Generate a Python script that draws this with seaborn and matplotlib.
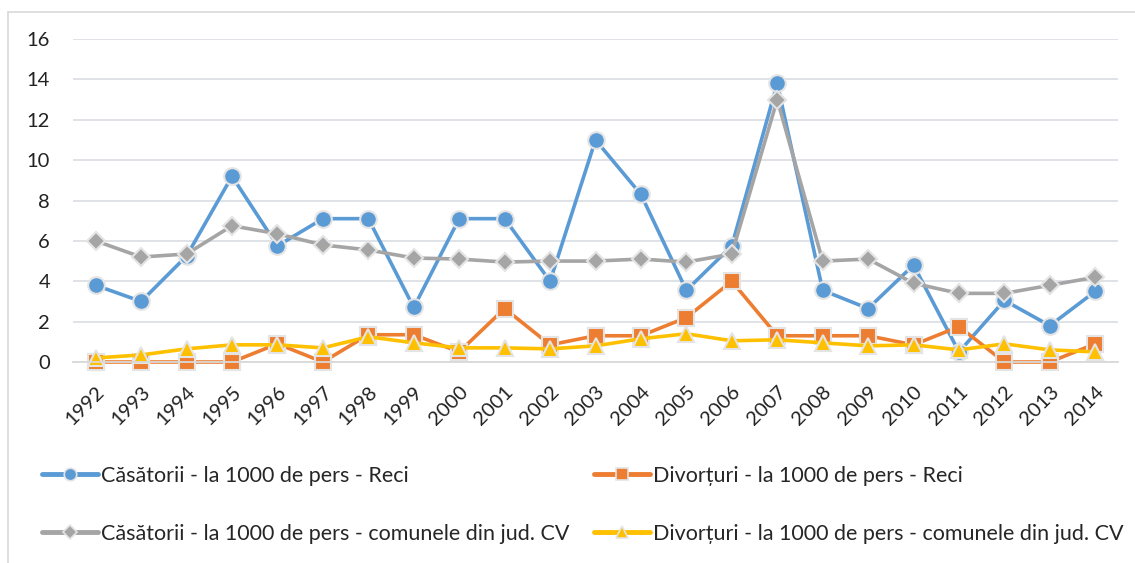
import matplotlib
matplotlib.use("Agg")
import matplotlib.pyplot as plt
import matplotlib.transforms as mtransforms
import seaborn as sns
import pandas as pd
import numpy as np
from matplotlib.lines import Line2D

years = [str(y) for y in range(1992, 2015)]

cas_reci = [3.8, 3.0, 5.25, 9.2, 5.75, 7.1, 7.1, 2.7, 7.1, 7.1, 4.0, 11.0, 8.3,
            3.55, 5.75, 13.8, 3.55, 2.65, 4.8, 0.5, 3.05, 1.8, 3.5]
div_reci = [0.0, 0.0, 0.0, 0.0, 0.9, 0.0, 1.35, 1.35, 0.5, 2.65, 0.85, 1.3, 1.3,
            2.2, 4.0, 1.3, 1.3, 1.3, 0.85, 1.75, 0.0, 0.0, 0.9]
cas_cv = [6.0, 5.2, 5.35, 6.75, 6.35, 5.8, 5.55, 5.15, 5.1, 4.95, 5.0, 5.0, 5.1,
          4.95, 5.35, 13.0, 5.0, 5.1, 3.9, 3.4, 3.4, 3.8, 4.2]
div_cv = [0.2, 0.35, 0.65, 0.85, 0.85, 0.7, 1.25, 0.95, 0.7, 0.7, 0.65, 0.8, 1.15,
          1.4, 1.05, 1.1, 0.95, 0.8, 0.85, 0.6, 0.9, 0.6, 0.5]

series_names = [
    "Căsătorii - la 1000 de pers - Reci",
    "Divorțuri - la 1000 de pers - Reci",
    "Căsătorii - la 1000 de pers - comunele din jud. CV",
    "Divorțuri - la 1000 de pers - comunele din jud. CV",
]
series_values = [cas_reci, div_reci, cas_cv, div_cv]
colors = ["#5B9BD5", "#ED7D31", "#A5A5A5", "#FFC000"]
markers = ["o", "s", "D", "^"]
msizes = [12, 11, 9, 12]

sns.set_theme(style="white")
plt.rcParams["font.family"] = ["Lato", "DejaVu Sans"]

fig = plt.figure(figsize=(11.35, 5.63), dpi=100)
ax = fig.add_axes([73/1135, 1-362/563, (1118-73)/1135, (362-39)/563])

xpos = np.arange(len(years))
edge = "#E4E4E4"
for name, vals, c, m, ms in zip(series_names, series_values, colors, markers, msizes):
    df = pd.DataFrame({"x": xpos, "y": vals})
    sns.lineplot(data=df, x="x", y="y", ax=ax, color=c, linewidth=2.6,
                 marker=m, markersize=ms, markeredgecolor=edge,
                 markeredgewidth=1.5, label=name, legend=False, clip_on=False)

ax.set_xlim(-0.5, len(years) - 0.5)
ax.set_ylim(0, 16)
ax.set_yticks(np.arange(0, 17, 2))
ax.set_yticklabels([str(v) for v in range(0, 17, 2)], fontsize=14.5, color="#222222")
ax.set_xticks(xpos)
ax.set_xticklabels(years, rotation=45, ha="right", rotation_mode="anchor",
                   fontsize=14.5, color="#222222")
offset = mtransforms.ScaledTranslation(2/100, 0, fig.dpi_scale_trans)
for lbl in ax.get_xticklabels():
    lbl.set_transform(lbl.get_transform() + offset)
ax.set_xticks(np.arange(-0.5, len(years), 1), minor=True)
ax.tick_params(axis="x", which="major", length=0, pad=15)
ax.tick_params(axis="x", which="minor", length=6, color="#D9D9D9", width=1)
ax.tick_params(axis="y", length=0, pad=16.5)
ax.set_xlabel("")
ax.set_ylabel("")
ax.grid(axis="y", color="#DCDFE5", linewidth=1.3)
ax.grid(axis="x", visible=False)
for s in ["top", "right", "left"]:
    ax.spines[s].set_visible(False)
ax.spines["bottom"].set_color("#D9D9D9")
ax.spines["bottom"].set_linewidth(1.3)
ax.set_axisbelow(True)

handles = [Line2D([0], [0], color=c, lw=3.5, marker=m, markersize=ms * 0.75,
                  markeredgecolor=edge, markeredgewidth=1.2)
           for c, m, ms in zip(colors, markers, msizes)]

leg_kw = dict(loc="upper left", ncol=1, frameon=False, fontsize=15.5,
              handlelength=2.6, handletextpad=0.15, labelspacing=1.75,
              borderaxespad=0, borderpad=0)
# column 1: blue, gray; column 2: orange, yellow
fig.legend([handles[0], handles[2]], [series_names[0], series_names[2]],
           bbox_to_anchor=(42/1135, 1-466/563), **leg_kw)
fig.legend([handles[1], handles[3]], [series_names[1], series_names[3]],
           bbox_to_anchor=(594/1135, 1-466/563), **leg_kw)

# outer chart border
fig.add_artist(Line2D([8/1135, 1], [1-12/563, 1-12/563], color="#D9D9D9", lw=1.2))
fig.add_artist(Line2D([8/1135, 8/1135], [0, 1-12/563], color="#D9D9D9", lw=1.2))

fig.savefig("out.png", dpi=100)
